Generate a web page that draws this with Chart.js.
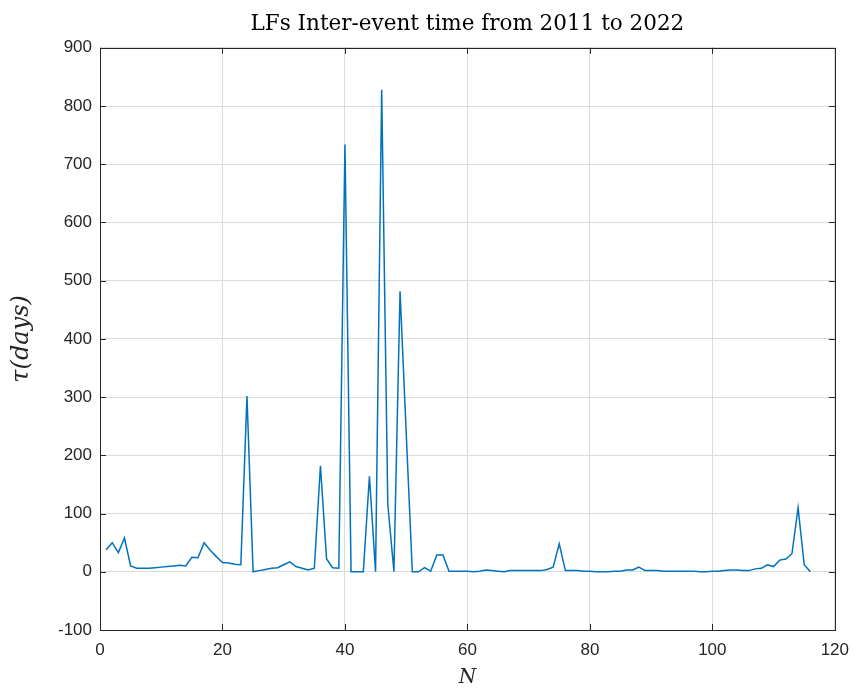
<!DOCTYPE html>
<html>
<head>
<meta charset="utf-8">
<title>LFs Inter-event time</title>
<script src="https://cdn.jsdelivr.net/npm/chart.js@4/dist/chart.umd.min.js"></script>
<style>
  html, body { margin: 0; padding: 0; background: #ffffff; }
  #wrap { width: 859px; height: 690px; }
</style>
</head>
<body>
<div id="wrap"><canvas id="lfChart" width="859" height="690"></canvas></div>
<script>
// event index N (1..116)
var eventIndex = [];
for (var i = 1; i <= 116; i++) eventIndex.push(i);

// inter-event time tau in days
var tauDays = [
  38, 50, 33, 58, 10, 6, 6, 6, 7, 8,
  9, 10, 11, 10, 25, 24, 50, 37, 26, 16,
  15, 13, 12, 302, 0, 2, 4, 6, 7, 12,
  17, 9, 6, 3, 6, 182, 22, 7, 6, 734,
  0, 0, 0, 164, 0, 828, 116, 0, 482, 240,
  0, 0, 7, 1, 29, 29, 1, 1, 1, 1,
  0, 1, 3, 2, 1, 0, 2, 2, 2, 2,
  2, 2, 4, 8, 48, 2, 2, 2, 1, 1,
  0, 0, 0, 1, 1, 3, 3, 8, 2, 2,
  2, 1, 1, 1, 1, 1, 1, 0, 0, 1,
  1, 2, 3, 3, 2, 2, 5, 6, 12, 9,
  20, 22, 31, 110, 12, 0
];

var xTicks = [0, 20, 40, 60, 80, 100, 120];
var yTicks = [-100, 0, 100, 200, 300, 400, 500, 600, 700, 800, 900];

var points = eventIndex.map(function(n, idx) {
  return { x: n, y: tauDays[idx] };
});

var axisColor = '#262626';
var gridColor = '#dcdcdc';
var serif = '"DejaVu Serif", "Liberation Serif", serif';

// matlab style box with inward ticks
var boxPlugin = {
  id: 'boxPlugin',
  afterDraw: function(chart) {
    var ctx = chart.ctx;
    var a = chart.chartArea;
    var xs = chart.scales.x, ys = chart.scales.y;
    var len = 6;
    ctx.save();
    ctx.strokeStyle = axisColor;
    ctx.lineWidth = 1;
    ctx.beginPath();
    xTicks.forEach(function(t) {
      var px = Math.round(xs.getPixelForValue(t)) + 0.5;
      ctx.moveTo(px, a.bottom); ctx.lineTo(px, a.bottom - len);
      ctx.moveTo(px, a.top); ctx.lineTo(px, a.top + len);
    });
    yTicks.forEach(function(t) {
      var py = Math.round(ys.getPixelForValue(t)) + 0.5;
      ctx.moveTo(a.left, py); ctx.lineTo(a.left + len, py);
      ctx.moveTo(a.right, py); ctx.lineTo(a.right - len, py);
    });
    ctx.stroke();
    ctx.strokeRect(Math.round(a.left) + 0.5, Math.round(a.top) + 0.5,
                   Math.round(a.right - a.left), Math.round(a.bottom - a.top));
    ctx.restore();
  }
};

new Chart(document.getElementById('lfChart'), {
  type: 'line',
  data: {
    datasets: [{
      data: points,
      borderColor: '#0072BD',
      borderWidth: 1.5,
      pointRadius: 0,
      fill: false,
      tension: 0
    }]
  },
  options: {
    responsive: false,
    animation: false,
    layout: { padding: { top: 0, right: 20, bottom: 0, left: 0 } },
    plugins: {
      legend: { display: false },
      tooltip: { enabled: false },
      title: {
        display: true,
        fullSize: false, // center over the axes, like matlab
        text: 'LFs Inter-event time from 2011 to 2022',
        color: '#000000',
        font: { family: serif, size: 21.5, weight: 'normal' },
        padding: { top: 12, bottom: 10 }
      }
    },
    scales: {
      x: {
        type: 'linear',
        min: 0,
        max: 120,
        afterBuildTicks: function(scale) {
          scale.ticks = xTicks.map(function(v) { return { value: v }; });
        },
        afterFit: function(scale) { scale.height = 60; },
        grid: { color: gridColor, drawTicks: false },
        border: { display: false },
        ticks: {
          color: axisColor,
          padding: 10,
          font: { family: '"Liberation Sans", Arial, sans-serif', size: 17 }
        },
        title: {
          display: true,
          text: 'N',
          color: axisColor,
          padding: { top: 0, bottom: 0 },
          font: { family: serif, size: 20, style: 'italic' }
        }
      },
      y: {
        type: 'linear',
        min: -100,
        max: 900,
        afterBuildTicks: function(scale) {
          scale.ticks = yTicks.map(function(v) { return { value: v }; });
        },
        afterFit: function(scale) { scale.width = 100; },
        grid: { color: gridColor, drawTicks: false },
        border: { display: false },
        ticks: {
          color: axisColor,
          padding: 8,
          font: { family: '"Liberation Sans", Arial, sans-serif', size: 17 }
        },
        title: {
          display: true,
          text: 'τ(days)',
          color: axisColor,
          padding: { top: 7, bottom: 0 },
          font: { family: serif, size: 24, style: 'italic' }
        }
      }
    }
  },
  plugins: [boxPlugin]
});
</script>
</body>
</html>
